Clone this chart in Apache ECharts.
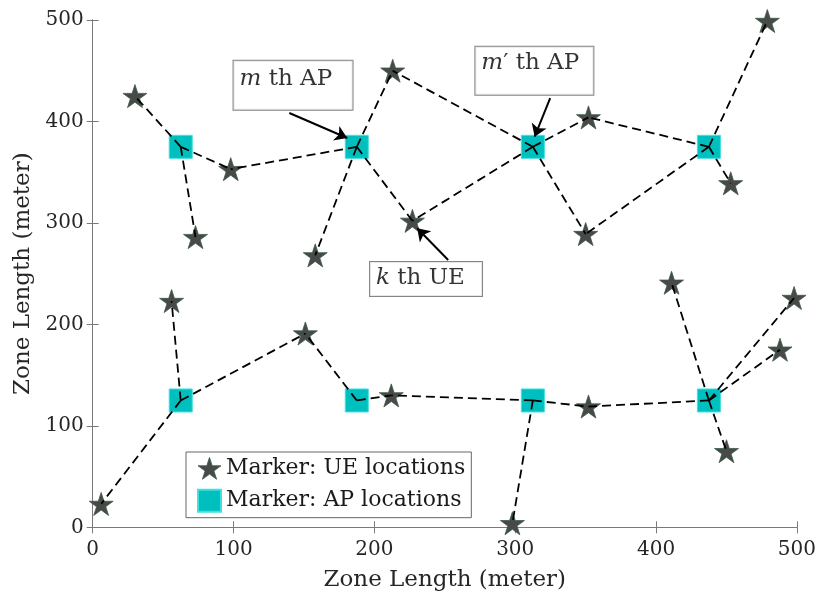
<!DOCTYPE html>
<html>
<head>
<meta charset="utf-8">
<script src="https://cdn.jsdelivr.net/npm/echarts/dist/echarts.min.js"></script>
<style>
html,body{margin:0;padding:0;background:#fff;}
#c{width:819px;height:599px;}
</style>
</head>
<body>
<div id="c"></div>
<script>
// ---- data ----
var apX = [62.5, 187.5, 312.5, 437.5, 62.5, 187.5, 312.5, 437.5];
var apY = [375, 375, 375, 375, 125, 125, 125, 125];

var ueX = [30, 98, 73, 158, 213, 227, 352, 350, 453, 479, 56, 6, 151, 212, 298, 352, 411, 450, 498, 488];
var ueY = [425, 353, 286, 268, 450, 302, 404, 289, 339, 499, 223, 23, 191, 130, 4, 119, 241, 75, 226, 175];

// [AP index, UE index]
var links = [
  [0, 0], [0, 1], [0, 2],
  [1, 1], [1, 3], [1, 4], [1, 5],
  [2, 4], [2, 5], [2, 6], [2, 7],
  [3, 6], [3, 7], [3, 8], [3, 9],
  [4, 10], [4, 11], [4, 12],
  [5, 12], [5, 13],
  [6, 13], [6, 14], [6, 15],
  [7, 15], [7, 16], [7, 17], [7, 18], [7, 19]
];

var xTicks = [0, 100, 200, 300, 400, 500];
var yTicks = [0, 100, 200, 300, 400, 500];

var seriesNames = ['Marker: UE locations', 'Marker: AP locations'];
var axisTitle = 'Zone Length (meter)';

// annotations: text, box top-left (data coords), arrow start, arrow end (data coords)
var annoText = ['{i|m} th AP', '{i|m}\u2032 th AP', '{i|k} th UE'];
var annoAnchorX = [100, 271.7, 196.9];
var annoAnchorY = [459.9, 473.7, 261.5];
var arrowFromX = [139.6, 324.8, 252.4];
var arrowFromY = [408.3, 423.1, 263.4];
var arrowToX = [180.7, 313.8, 230.4];
var arrowToY = [383.7, 385, 294.7];

// ---- build ----
var FONT = 'DejaVu Serif';
var STAR = 'path://M0,-1000 L224.5,-309 L951,-309 L363.3,118 L588,809 L0,382 L-588,809 L-363.3,118 L-951,-309 L-224.5,-309 Z';

var apData = apX.map(function (x, i) { return [x, apY[i]]; });
var ueData = ueX.map(function (x, i) { return [x, ueY[i]]; });
var linkData = links.map(function (l) {
  return { coords: [[apX[l[0]], apY[l[0]]], [ueX[l[1]], ueY[l[1]]]] };
});
var arrowData = arrowFromX.map(function (x, i) {
  return { coords: [[x, arrowFromY[i]], [arrowToX[i], arrowToY[i]]] };
});
var boxW = [113, 112, 106];
var boxH = [45, 46, 32];
var boxPadTop = [4, 2, 2];
var annoData = annoText.map(function (t, i) {
  return {
    value: [annoAnchorX[i], annoAnchorY[i]],
    label: {
      formatter: t,
      width: boxW[i],
      height: boxH[i],
      padding: [boxPadTop[i], 0, 0, 6]
    }
  };
});

var axisColor = '#7a7a7a';
var labelColor = '#262626';

var option = {
  animation: false,
  backgroundColor: '#ffffff',
  grid: { left: 92.7, right: 19.7, top: 20, bottom: 71.7, containLabel: false },
  xAxis: [{
    type: 'value', min: 0, max: 500, interval: 100, position: 'bottom',
    name: axisTitle, nameLocation: 'middle', nameGap: 41,
    nameTextStyle: { fontFamily: FONT, fontSize: 23, color: labelColor },
    axisLine: { show: true, lineStyle: { color: axisColor, width: 1 } },
    axisTick: { show: true, inside: true, length: 6, lineStyle: { color: axisColor } },
    axisLabel: { fontFamily: FONT, fontSize: 20, color: labelColor, margin: 12,
      formatter: function (v) { return xTicks.indexOf(v) >= 0 ? String(v) : ''; } },
    splitLine: { show: false }
  }, {
    type: 'value', min: 0, max: 500, interval: 100, position: 'top',
    axisLine: { show: true, lineStyle: { color: axisColor, width: 1 } },
    axisTick: { show: true, inside: true, length: 6, lineStyle: { color: axisColor } },
    axisLabel: { show: false }, splitLine: { show: false }
  }],
  yAxis: [{
    type: 'value', min: 0, max: 500, interval: 100, position: 'left',
    name: axisTitle, nameLocation: 'middle', nameGap: 44,
    nameTextStyle: { fontFamily: FONT, fontSize: 23, color: labelColor },
    axisLine: { show: true, lineStyle: { color: axisColor, width: 1 } },
    axisTick: { show: true, inside: true, length: 6, lineStyle: { color: axisColor } },
    axisLabel: { fontFamily: FONT, fontSize: 20, color: labelColor, margin: 9,
      formatter: function (v) { return yTicks.indexOf(v) >= 0 ? String(v) : ''; } },
    splitLine: { show: false }
  }, {
    type: 'value', min: 0, max: 500, interval: 100, position: 'right',
    axisLine: { show: true, lineStyle: { color: axisColor, width: 1 } },
    axisTick: { show: true, inside: true, length: 6, lineStyle: { color: axisColor } },
    axisLabel: { show: false }, splitLine: { show: false }
  }],
  legend: {
    data: [
      { name: seriesNames[0], itemStyle: { color: '#474a48', borderColor: '#3d5a48', borderWidth: 0.8 } },
      { name: seriesNames[1] }
    ],
    orient: 'vertical', left: 186, top: 452,
    backgroundColor: '#ffffff', borderColor: '#666', borderWidth: 1,
    padding: [5, 6, 5, 11], itemGap: 9, itemWidth: 23, itemHeight: 22, itemTextGap: 12,
    textStyle: { fontFamily: FONT, fontSize: 22, color: '#1a1a1a', lineHeight: 22 },
    selectedMode: false
  },
  series: [{
    name: seriesNames[1], type: 'scatter', data: apData,
    symbol: 'rect', symbolSize: 23,
    itemStyle: { color: '#00bfbf', borderColor: '#3fe0e0', borderWidth: 1, opacity: 1 },
    z: 2
  }, {
    name: seriesNames[0], type: 'scatter', data: ueData,
    symbol: STAR, symbolSize: [24, 23], symbolOffset: [0, 0],
    itemStyle: { color: '#474a48', borderColor: '#3d5a48', borderWidth: 0.8, opacity: 1 },
    z: 3
  }, {
    name: 'links', type: 'lines', coordinateSystem: 'cartesian2d',
    data: linkData, symbol: ['none', 'none'],
    lineStyle: { color: '#000', width: 1.8, type: [9, 5], opacity: 1 },
    silent: true, z: 4
  }, {
    name: 'arrows', type: 'lines', coordinateSystem: 'cartesian2d',
    data: arrowData, symbol: ['none', 'arrow'], symbolSize: [8, 12],
    lineStyle: { color: '#000', width: 2, type: 'solid', opacity: 1 },
    itemStyle: { color: '#000' },
    silent: true, z: 5
  }, {
    name: 'annotations', type: 'scatter', data: annoData,
    symbolSize: 0, silent: true, z: 6,
    label: {
      show: true, position: [0, 0], align: 'left', verticalAlign: 'top',
      backgroundColor: '#ffffff', borderColor: '#666', borderWidth: 1,
      fontFamily: FONT, fontSize: 23, color: '#000', lineHeight: 28,
      rich: { i: { fontFamily: FONT, fontStyle: 'italic', fontSize: 23, color: '#000', lineHeight: 28 } }
    }
  }]
};

var chart = echarts.init(document.getElementById('c'), null, { renderer: 'canvas' });
chart.setOption(option);
</script>
</body>
</html>
